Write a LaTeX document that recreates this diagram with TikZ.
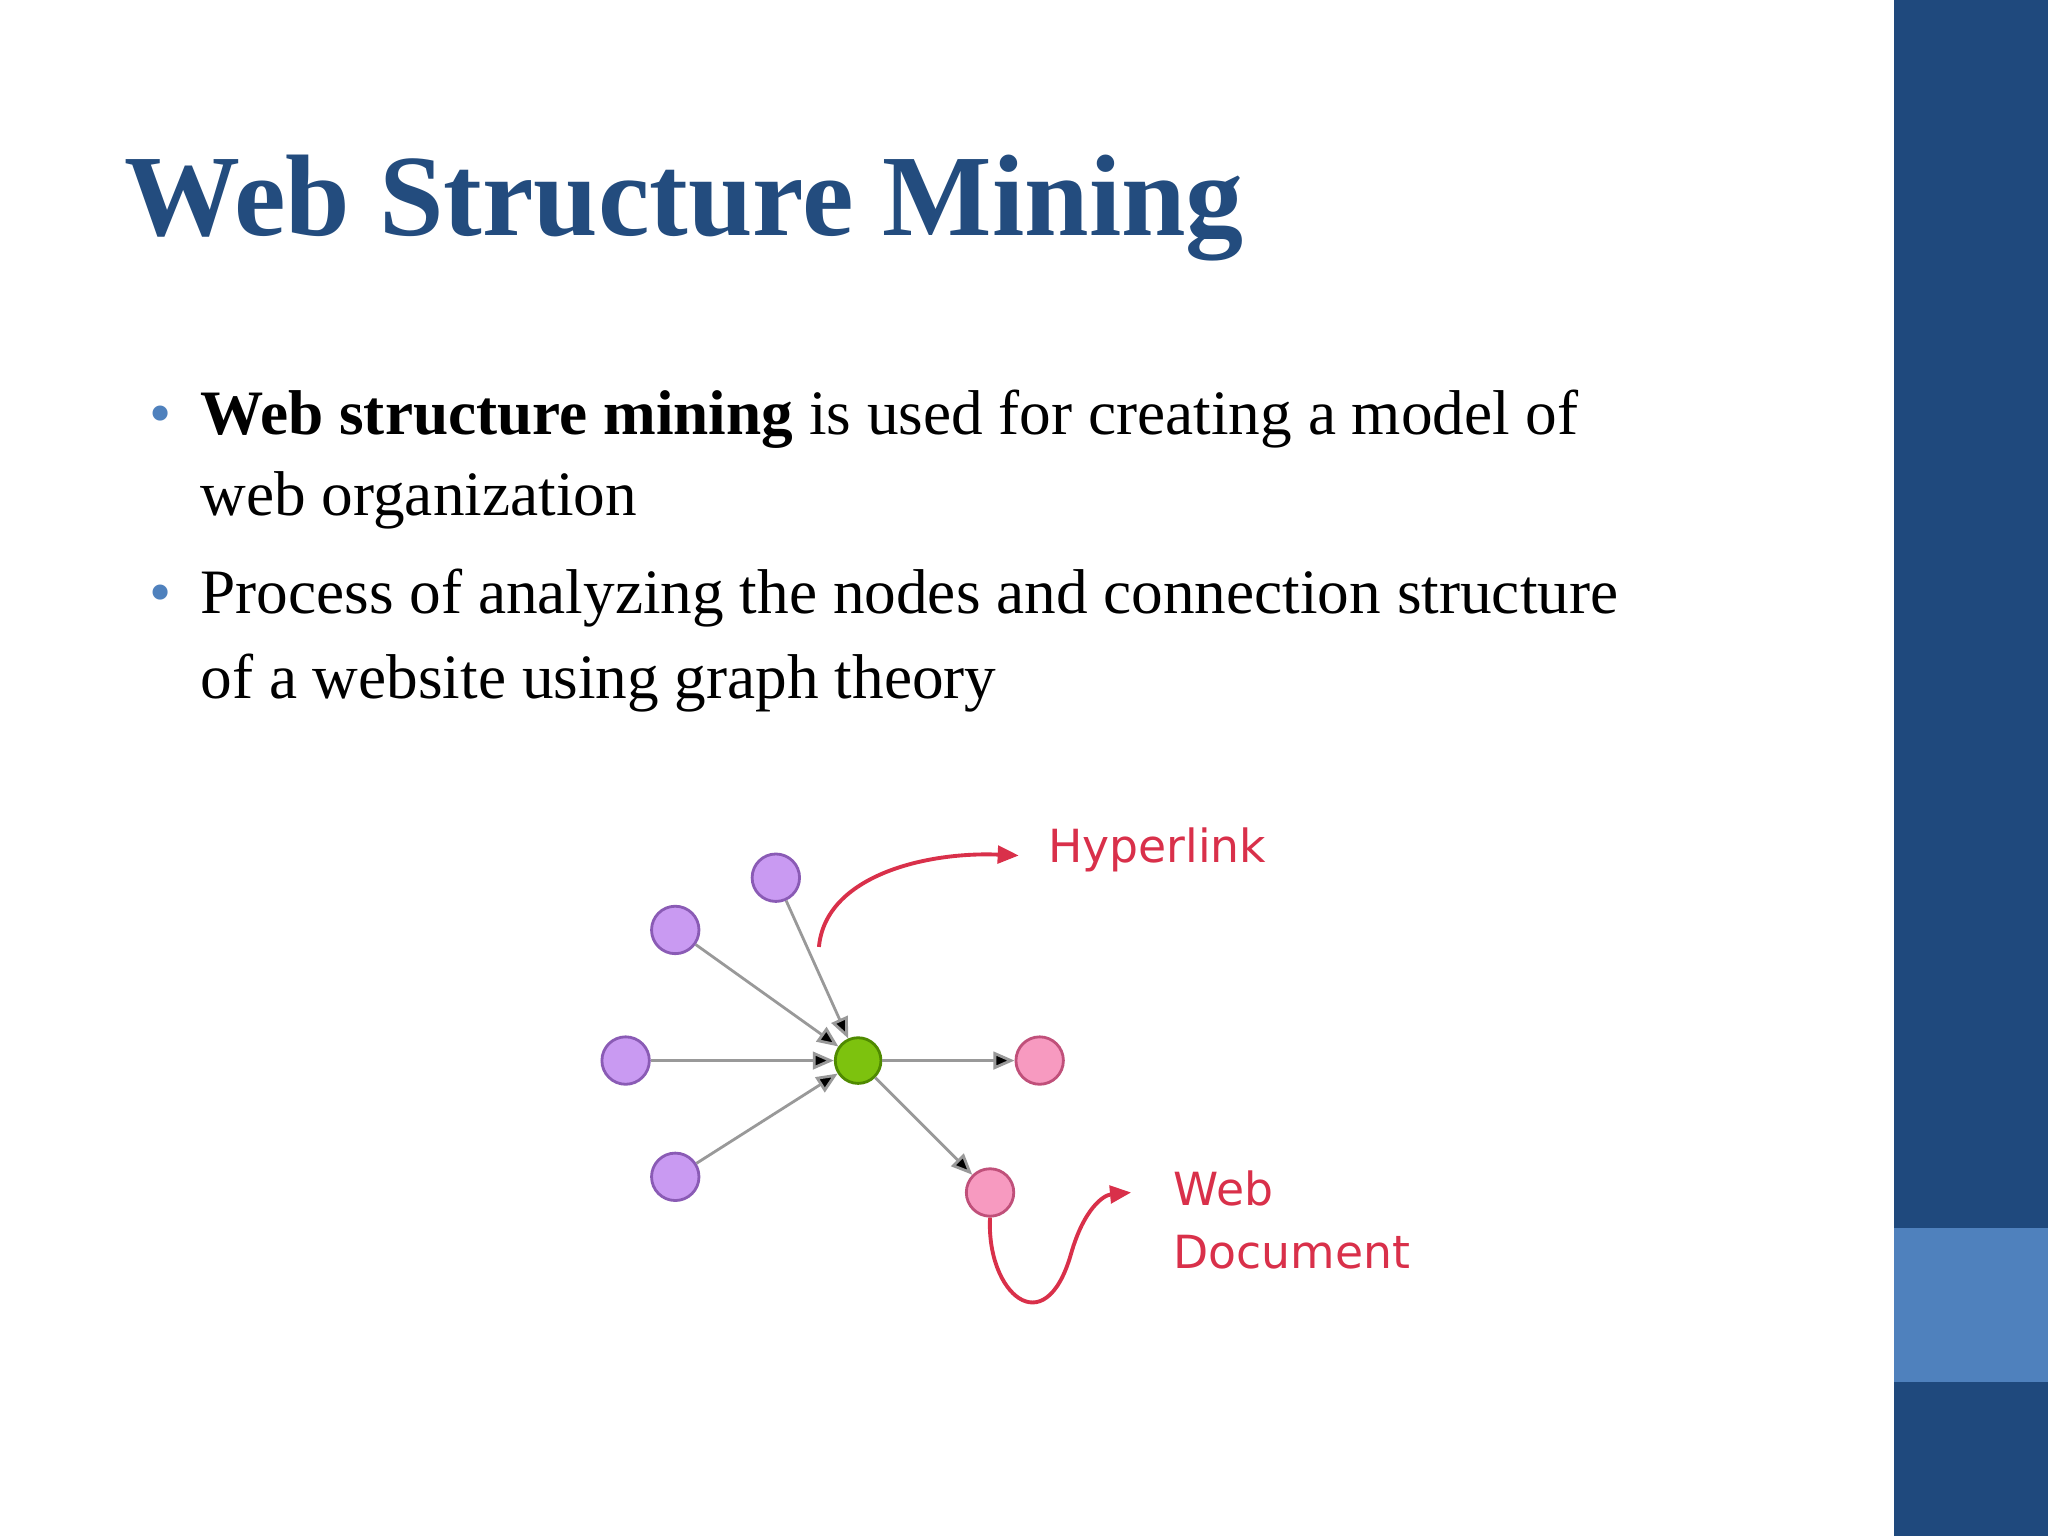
\documentclass[tikz,border=0pt]{standalone}
\usepackage{fontspec}
\setmainfont{Liberation Serif}
\newfontfamily\lblfont{DejaVu Sans}
\usetikzlibrary{arrows.meta}
\definecolor{dblue}{HTML}{1F497D}
\definecolor{lblue}{HTML}{4F81BD}
\definecolor{ttl}{HTML}{234C7E}
\definecolor{purp}{HTML}{C99AF2}
\definecolor{purpd}{HTML}{8A5BB5}
\definecolor{pinkf}{HTML}{F79AC0}
\definecolor{pinkd}{HTML}{C0507A}
\definecolor{grn}{HTML}{7DC20E}
\definecolor{grnd}{HTML}{4F8A00}
\definecolor{redl}{HTML}{D9304A}
\begin{document}
\begin{tikzpicture}[x=0.01306cm,y=-0.01306cm,
  pnode/.style={circle,fill=purp,draw=purpd,line width=0.8pt,minimum size=13.5pt,inner sep=0pt},
  knode/.style={circle,fill=pinkf,draw=pinkd,line width=0.8pt,minimum size=13.5pt,inner sep=0pt},
  gnode/.style={circle,fill=grn,draw=grnd,line width=0.8pt,minimum size=13pt,inner sep=0pt},
  link/.style={draw=gray!80,line width=0.8pt,-{Triangle[length=6pt,width=5pt,fill=black]}},
  rlink/.style={draw=redl,line width=1.1pt,-{Triangle[length=6pt,width=5pt]}},
  lbl/.style={font=\lblfont\fontsize{13}{15}\selectfont,text=redl,inner sep=0pt,anchor=base west},
  body/.style={anchor=base west,inner sep=0pt,font=\fontsize{18}{22}\selectfont},
  bul/.style={anchor=base,inner sep=0pt,text=lblue,font=\fontsize{18}{22}\selectfont}]
\fill[white] (0,0) rectangle (1568,1176);
\fill[dblue] (1450,0) rectangle (1568,1176);
\fill[lblue] (1450,940) rectangle (1568,1058);
\node[anchor=base west,inner sep=0pt,text=ttl,font=\bfseries\fontsize{33}{38}\selectfont] (title) at (95,180) {Web Structure Mining};
\node[bul] (b1) at (123,333) {•};
\node[body] (t1) at (153,333) {\textbf{Web structure mining} is used for creating a model of};
\node[body] (t2) at (153,395) {web organization};
\node[bul] (b2) at (123,470) {•};
\node[body] (t3) at (153,470) {Process of analyzing the nodes and connection structure};
\node[body] (t4) at (153,535) {of a website using graph theory};
\node[gnode] (c) at (657,812) {};
\node[pnode] (p1) at (594,672) {};
\node[pnode] (p2) at (517,712) {};
\node[pnode] (p3) at (479,812) {};
\node[pnode] (p4) at (517,901) {};
\node[knode] (k1) at (796,812) {};
\node[knode] (k2) at (758,913) {};
\draw[link] (p1) -- (c);
\draw[link] (p2) -- (c);
\draw[link] (p3) -- (c);
\draw[link] (p4) -- (c);
\draw[link] (c) -- (k1);
\draw[link] (c) -- (k2);
\coordinate (h0) at (627,725);
\coordinate (h1) at (780,655);
\coordinate (w1) at (866,913);
\draw[rlink] (h0) .. controls (632,670) and (710,652) .. (h1);
\draw[rlink] (k2.south) .. controls (755,990) and (800,1030) .. (820,960) .. controls (830,925) and (845,915) .. (w1);
\node[lbl] (hl) at (802,660) {Hyperlink};
\node[lbl] (wl) at (898,923) {Web};
\node[lbl] (dl) at (898,971) {Document};
\end{tikzpicture}
\end{document}
